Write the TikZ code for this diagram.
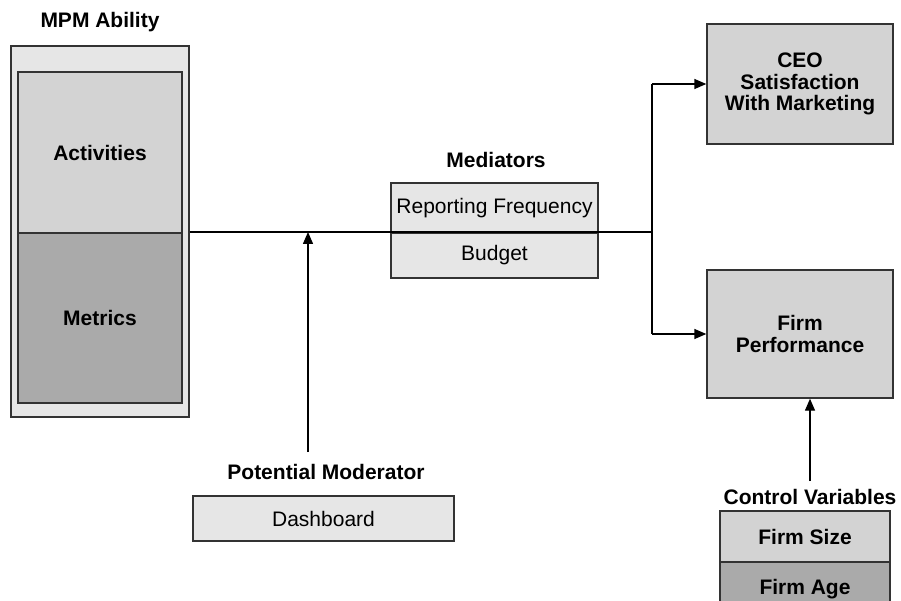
\documentclass[tikz,border=0pt]{standalone}
\usepackage{fontspec}
\setmainfont{Liberation Sans}
\usetikzlibrary{arrows.meta}
\definecolor{lgray}{HTML}{E6E6E6}
\definecolor{mgray}{HTML}{D3D3D3}
\definecolor{dgray}{HTML}{AAAAAA}
\definecolor{edge}{HTML}{333333}
\tikzset{
  box/.style={draw=edge, line width=1.4pt, rectangle, inner sep=0pt, align=center, font=\fontsize{21}{21.5}\selectfont},
  bbox/.style={box, font=\fontsize{21}{21.5}\selectfont\bfseries},
  lbl/.style={inner sep=0pt, font=\fontsize{21}{22}\selectfont\bfseries},
  conn/.style={line width=1.4pt, draw=black},
  arr/.style={conn, -{Triangle[length=12pt,width=10pt]}},
}
\begin{document}
\begin{tikzpicture}[x=1pt,y=-1pt]
\useasboundingbox (0,0) rectangle (901,601);
\clip (0,0) rectangle (901,601);
% MPM ability
\node[lbl] (mpmt) at (100,22) {MPM Ability};
\node[box, fill=lgray, minimum width=178pt, minimum height=371pt] (mpm) at (100,231.5) {};
\node[bbox, fill=mgray, minimum width=164pt, minimum height=161pt] (act) at (100,152.5) {Activities};
\node[bbox, fill=dgray, minimum width=164pt, minimum height=170pt] (met) at (100,318) {Metrics};
% Mediators
\node[lbl] (medt) at (496,160) {Mediators};
\node[box, fill=lgray, minimum width=207pt, minimum height=50pt] (rf) at (494.5,208) {Reporting Frequency};
\node[box, fill=lgray, minimum width=207pt, minimum height=45pt] (bud) at (494.5,255.5) {Budget};
% Outcomes
\node[bbox, fill=mgray, minimum width=186pt, minimum height=120pt] (ceo) at (800,84) {CEO\\Satisfaction\\With Marketing};
\node[bbox, fill=mgray, minimum width=186pt, minimum height=128pt] (fp) at (800,334) {Firm\\Performance};
% Control variables
\node[lbl] (cvt) at (810,497) {Control Variables};
\node[bbox, fill=mgray, minimum width=170pt, minimum height=52pt] (fs) at (805,537) {Firm Size};
\node[bbox, fill=dgray, minimum width=170pt, minimum height=48pt, text depth=0pt] (fa) at (805,586) {\raisebox{-2pt}{Firm Age}};
% Moderator
\node[lbl] (modt) at (326,472) {Potential Moderator};
\node[box, fill=lgray, minimum width=261pt, minimum height=45pt] (dash) at (323.5,518.5) {Dashboard};
% connectors
\coordinate (j) at (652,232);
\coordinate (mtop) at (308,232);
\coordinate (mbot) at (308,452);
\coordinate (ctop) at (810,481);
\draw[conn] (mpm.east |- j) -- (j);
\draw[conn] (j) -- (652,84) ;
\draw[arr] (652,84) -- (ceo.west);
\draw[conn] (j) -- (j |- fp.west);
\draw[arr] (j |- fp.west) -- (fp.west);
\draw[arr] (mbot) -- (mtop);
\draw[arr] (ctop) -- (ctop |- fp.south);
\end{tikzpicture}
\end{document}
